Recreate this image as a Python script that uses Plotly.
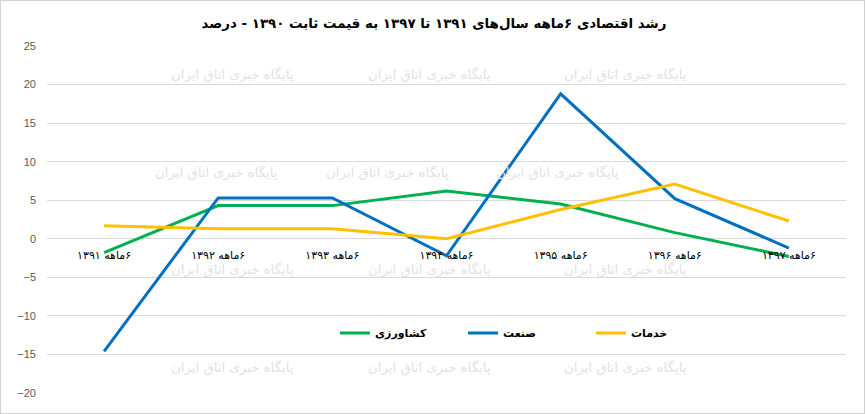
import plotly.graph_objects as go

RLM = "\u200f"
categories = ["۶ماهه ۱۳۹۱", "۶ماهه ۱۳۹۲", "۶ماهه ۱۳۹۳", "۶ماهه ۱۳۹۴",
              "۶ماهه ۱۳۹۵", "۶ماهه ۱۳۹۶", "۶ماهه ۱۳۹۷"]
agriculture = [-1.8, 4.3, 4.3, 6.2, 4.5, 0.8, -2.3]
industry = [-14.6, 5.3, 5.3, -2.2, 18.8, 5.2, -1.2]
services = [1.7, 1.3, 1.3, 0.0, 3.8, 7.1, 2.3]
series_names = ["کشاورزی", "صنعت", "خدمات"]
series_colors = ["#00B050", "#0070C0", "#FFC000"]
y_ticks = [-20, -15, -10, -5, 0, 5, 10, 15, 20, 25]
grid_ticks = [-15, -10, -5, 0, 5, 10, 15, 20]
title = "رشد اقتصادی ۶ماهه سال‌های ۱۳۹۱ تا ۱۳۹۷ به قیمت ثابت ۱۳۹۰ - درصد"
watermark = "پایگاه خبری اتاق ایران"

W, H = 866, 414
L, R, T, B = 47, 20, 46, 21
PW, PH = W - L - R, H - T - B

def px(x):
    return (x - L) / PW

def py(y):
    return (H - B - y) / PH

labels = [RLM + c for c in categories]

fig = go.Figure()
for name, vals, col in zip(series_names, [agriculture, industry, services], series_colors):
    fig.add_trace(go.Scatter(x=labels, y=vals, name=name, mode="lines",
                             line=dict(color=col, width=3), cliponaxis=False))

# gridline-only overlay axis
fig.add_trace(go.Scatter(x=labels, y=[None] * len(labels), yaxis="y2",
                         showlegend=False, hoverinfo="skip"))

annotations = []
wm_rows = [(75, [232, 429, 625]), (173, [216, 387, 557]),
           (270, [232, 429, 625]), (368, [232, 429, 625])]
for yy, xs in wm_rows:
    for xx in xs:
        annotations.append(dict(text=watermark, x=px(xx), y=py(yy), xref="paper", yref="paper",
                                showarrow=False, font=dict(family="DejaVu Sans", size=13.3, color="#e2e2e2"),
                                xanchor="center", yanchor="middle"))

fig.update_layout(
    width=W, height=H,
    margin=dict(l=L, r=R, t=T, b=B),
    paper_bgcolor="white", plot_bgcolor="white",
    title=dict(text="<b>" + title + "</b>", x=px(434), xref="paper", y=1 - 23 / H, yanchor="middle",
               xanchor="center",
               font=dict(family="DejaVu Sans", size=13.4, color="#000000")),
    xaxis=dict(type="category", range=[-0.5, 6.5], anchor="free", position=20 / 45,
               showgrid=False, showline=False, ticks="", zeroline=False, ticklabelstandoff=8,
               tickfont=dict(family="DejaVu Sans", size=11, color="#000000")),
    yaxis=dict(range=[-20, 25], tickvals=y_ticks, showgrid=False, zeroline=False,
               showline=False, ticks="", ticklabelstandoff=10,
               tickfont=dict(family="Liberation Sans", size=11, color="#595959")),
    yaxis2=dict(range=[-20, 25], overlaying="y", tickvals=grid_ticks, showgrid=True,
                gridcolor="#d9d9d9", gridwidth=1, showticklabels=False, zeroline=False,
                side="left", layer="below traces"),
    legend=dict(orientation="h", x=px(335), y=py(333), xanchor="left", yanchor="middle",
                entrywidth=83, entrywidthmode="pixels", bgcolor="rgba(0,0,0,0)",
                font=dict(family="DejaVu Sans", size=11, color="#000000", weight="bold")),
    annotations=annotations,
    shapes=[dict(type="rect", xref="paper", yref="paper",
                 x0=px(0.5), x1=px(W - 1.5), y0=py(H - 0.5), y1=py(0.5),
                 line=dict(color="#d0d0d0", width=1), fillcolor="rgba(0,0,0,0)", layer="below")],
    showlegend=True,
)

fig.write_html("out.html")
